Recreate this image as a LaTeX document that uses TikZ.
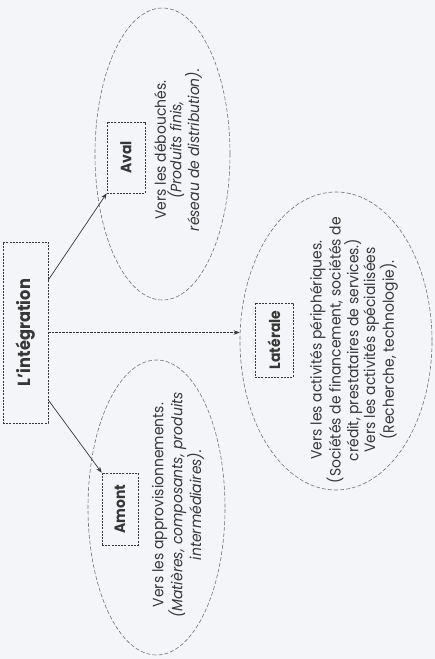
\documentclass[tikz,border=0pt]{standalone}
\usepackage{fontspec}
\setmainfont{Poppins}[FakeStretch=0.93]
\usetikzlibrary{shapes.geometric,arrows.meta,calc}
\definecolor{ink}{RGB}{55,55,55}
\definecolor{bgc}{RGB}{243,245,248}
\begin{document}
\begin{tikzpicture}[x=1pt,y=-1pt,
  oval/.style={ellipse, draw=ink!70, dash pattern=on 4pt off 2pt, line width=0.6pt, inner sep=0pt},
  lab/.style={draw=ink, dash pattern=on 2pt off 1.2pt, line width=0.6pt, inner sep=0pt, text=ink, font=\bfseries\fontsize{15}{17}\selectfont},
  body/.style={rotate=90, align=center, font=\fontsize{15}{15.5}\selectfont, text=ink, inner sep=0pt},
  arr/.style={draw=ink, line width=0.7pt, -{Stealth[length=6pt,width=4.5pt]}}]
\useasboundingbox (0,0) rectangle (435,659);
\fill[bgc] (0,0) rectangle (435,659);
% ovals
\node[oval, minimum width=135pt, minimum height=292pt] (ovAval) at (162.5,154) {};
\node[oval, minimum width=137pt, minimum height=295pt] (ovAmont) at (156.5,507.5) {};
\node[oval, minimum width=192pt, minimum height=298pt] (ovLat) at (336,341) {};
% label boxes
\node[lab, minimum width=45pt, minimum height=181pt, font=\bfseries\fontsize{17.5}{19}\selectfont] (integ) at (25.5,332.5) {\rotatebox{90}{L’intégration}};
\node[lab, minimum width=38pt, minimum height=71pt] (aval) at (126,157.5) {\rotatebox{90}{Aval}};
\node[lab, minimum width=36pt, minimum height=72pt] (amont) at (120,509) {\rotatebox{90}{Amont}};
\node[lab, minimum width=38pt, minimum height=74pt] (lat) at (274,340) {\rotatebox{90}{Latérale}};
% texts
\node[body] (tAval) at (178,150) {Vers les débouchés.\\{\itshape (Produits finis,}\\{\itshape réseau de distribution).}};
\node[body] (tAmont) at (178,505) {Vers les approvisionnements.\\{\itshape (Matières, composants, produits}\\{\itshape intermédiaires).}};
\node[body] (tLat) at (354,350) {Vers les activités périphériques.\\(Sociétés de financement, sociétés de\\crédit, prestataires de services.)\\Vers les activités spécialisées\\(Recherche, technologie).};
% arrows
\draw[arr] ([yshift=52.5pt]integ.east) -- (aval.south west);
\draw[arr] ([yshift=-67.5pt]integ.east) -- (amont.north west);
\draw[arr, dash pattern=on 2.5pt off 1pt] (integ.east) -- (integ.east -| ovLat.west);
\end{tikzpicture}
\end{document}
